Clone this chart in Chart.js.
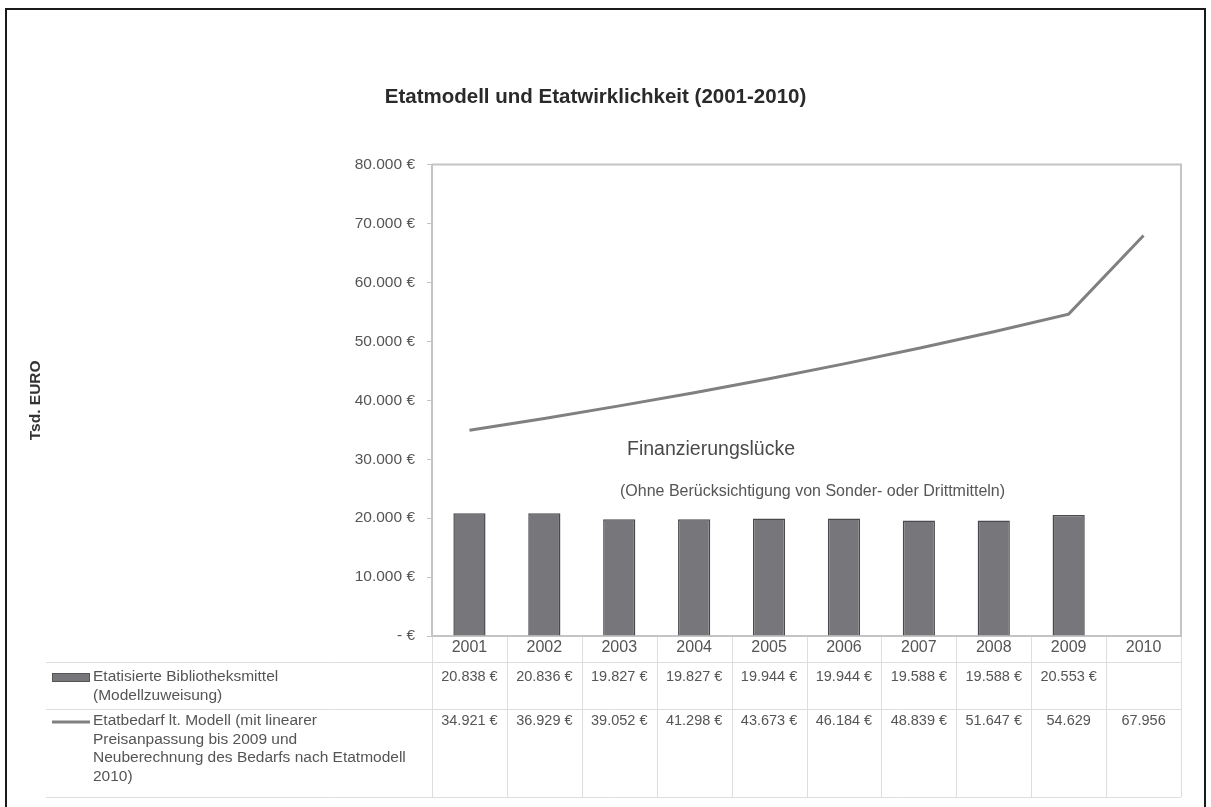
<!DOCTYPE html>
<html>
<head>
<meta charset="utf-8">
<script src="https://cdn.jsdelivr.net/npm/chart.js@4.4.1/dist/chart.umd.min.js"></script>
<style>
  html, body { margin: 0; padding: 0; background: #fff; }
  #wrap { width: 1211px; height: 807px; position: relative; }
</style>
</head>
<body>
<div id="wrap"><canvas id="chart"></canvas></div>
<script>
const years = ['2001', '2002', '2003', '2004', '2005', '2006', '2007', '2008', '2009', '2010'];
const budgetValues = [20838, 20836, 19827, 19827, 19944, 19944, 19588, 19588, 20553, null];
const modelValues = [34921, 36929, 39052, 41298, 43673, 46184, 48839, 51647, 54629, 67956];
// the source table drops the euro sign on the last two model values
const modelHasEuro = [true, true, true, true, true, true, true, true, false, false];
const yTicks = [0, 10000, 20000, 30000, 40000, 50000, 60000, 70000, 80000];

const budgetLabel = ['Etatisierte Bibliotheksmittel', '(Modellzuweisung)'];
const modelLabel = ['Etatbedarf lt. Modell (mit linearer', 'Preisanpassung bis 2009 und',
  'Neuberechnung des Bedarfs nach Etatmodell', '2010)'];

const BAR_COLOR = '#77777b';
const LINE_COLOR = '#808080';
const TEXT_COLOR = '#555555';
const FONT = '"Liberation Sans", Arial, sans-serif';

function fmt(v) {
  if (v === 0) return '- €';
  return String(v).replace(/\B(?=(\d{3})+(?!\d))/g, '.') + ' €';
}
function fmtPlain(v) {
  return String(v).replace(/\B(?=(\d{3})+(?!\d))/g, '.');
}

const extras = {
  id: 'extras',
  afterDraw(chart) {
    const ctx = chart.ctx;
    const area = chart.chartArea;
    const x = chart.scales.x;
    const colW = (area.right - area.left) / years.length;
    ctx.save();

    // plot frame top/right
    ctx.strokeStyle = '#c4c4c4';
    ctx.lineWidth = 2;
    ctx.beginPath();
    ctx.moveTo(area.left, area.top);
    ctx.lineTo(area.right, area.top);
    ctx.lineTo(area.right, area.bottom);
    ctx.stroke();

    // annotations
    ctx.fillStyle = '#4a4a4a';
    ctx.textBaseline = 'middle';
    ctx.textAlign = 'left';
    ctx.font = '19.5px ' + FONT;
    ctx.fillText('Finanzierungslücke', area.left + 195, 450);
    ctx.fillStyle = TEXT_COLOR;
    ctx.font = '16px ' + FONT;
    ctx.fillText('(Ohne Berücksichtigung von Sonder- oder Drittmitteln)', area.left + 188, 492);

    // data table
    const tLeft = 46;
    const yHead = area.bottom;
    const y1 = 662, y2 = 709, y3 = 797;
    ctx.strokeStyle = '#dedede';
    ctx.lineWidth = 1;
    ctx.beginPath();
    [y1, y2, y3].forEach(y => { ctx.moveTo(tLeft, y + 0.5); ctx.lineTo(area.right, y + 0.5); });
    for (let i = 0; i <= years.length; i++) {
      const cx = Math.round(x.getPixelForValue(0) - colW / 2 + i * colW) + 0.5;
      ctx.moveTo(cx, yHead + 1);
      ctx.lineTo(cx, y3);
    }
    ctx.stroke();

    // legend keys
    ctx.fillStyle = BAR_COLOR;
    ctx.fillRect(52, 673, 38, 9);
    ctx.strokeStyle = '#555';
    ctx.strokeRect(52.5, 673.5, 37, 8);
    ctx.strokeStyle = LINE_COLOR;
    ctx.lineWidth = 3;
    ctx.beginPath();
    ctx.moveTo(52, 722);
    ctx.lineTo(90, 722);
    ctx.stroke();

    ctx.fillStyle = TEXT_COLOR;
    ctx.font = '15.5px ' + FONT;
    ctx.textAlign = 'left';
    budgetLabel.forEach((t, i) => ctx.fillText(t, 93, 677 + i * 18.5));
    modelLabel.forEach((t, i) => ctx.fillText(t, 93, 721 + i * 18.5));

    ctx.font = '14.5px ' + FONT;
    ctx.textAlign = 'center';
    years.forEach((yr, i) => {
      const cx = x.getPixelForValue(i);
      if (budgetValues[i] != null) ctx.fillText(fmt(budgetValues[i]), cx, 677);
      const mv = modelHasEuro[i] ? fmt(modelValues[i]) : fmtPlain(modelValues[i]);
      ctx.fillText(mv, cx, 721);
    });

    // outer frame
    ctx.strokeStyle = '#1a1a1a';
    ctx.lineWidth = 2;
    ctx.strokeRect(6, 9, 1199, 810);
    ctx.restore();
  }
};

new Chart(document.getElementById('chart'), {
  type: 'bar',
  data: {
    labels: years,
    datasets: [
      {
        type: 'line',
        label: modelLabel.join(' '),
        data: modelValues,
        borderColor: LINE_COLOR,
        borderWidth: 3,
        pointRadius: 0,
        tension: 0,
        fill: false,
        order: 0
      },
      {
        type: 'bar',
        label: budgetLabel.join(' '),
        data: budgetValues,
        backgroundColor: BAR_COLOR,
        borderColor: '#4a4a4e',
        borderWidth: 1.5,
        categoryPercentage: 1,
        barPercentage: 0.43,
        order: 1
      }
    ]
  },
  options: {
    responsive: true,
    maintainAspectRatio: false,
    animation: false,
    layout: { padding: { left: 10, right: 30, top: 0, bottom: 0 } },
    plugins: {
      legend: { display: false },
      tooltip: { enabled: false },
      title: {
        display: true,
        text: 'Etatmodell und Etatwirklichkeit (2001-2010)',
        color: '#2a2a2a',
        font: { family: FONT, size: 20.5, weight: 'bold' },
        padding: { top: 85, bottom: 55 }
      }
    },
    scales: {
      x: {
        grid: { display: false, drawTicks: false },
        border: { color: '#c4c4c4', width: 2 },
        ticks: { color: TEXT_COLOR, font: { family: FONT, size: 16 }, padding: 2 },
        afterFit(scale) { scale.height = 171; }
      },
      y: {
        min: 0,
        max: 80000,
        afterBuildTicks(scale) { scale.ticks = yTicks.map(v => ({ value: v })); },
        grid: { drawOnChartArea: false, drawTicks: true, tickLength: 5, color: '#c4c4c4' },
        border: { color: '#c4c4c4', width: 2 },
        ticks: { color: TEXT_COLOR, font: { family: FONT, size: 15.5 }, padding: 12, callback: v => fmt(v) },
        title: {
          display: true,
          text: 'Tsd. EURO',
          color: '#333',
          font: { family: FONT, size: 15.5, weight: 'bold' },
          padding: { top: 16, bottom: 0 }
        },
        afterFit(scale) { scale.width = 422; }
      }
    }
  },
  plugins: [extras]
});
</script>
</body>
</html>
